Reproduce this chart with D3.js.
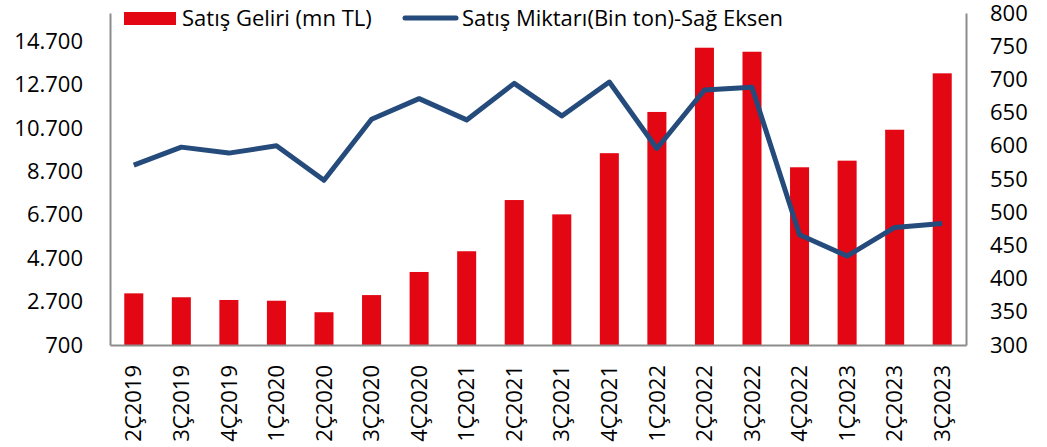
<!DOCTYPE html>
<html>
<head>
<meta charset="utf-8">
<script src="https://cdn.jsdelivr.net/npm/d3@7"></script>
<style>
  body { margin: 0; background: #fff; }
  svg text { font-family: "Open Sans", Lato, sans-serif; fill: #000; }
</style>
</head>
<body>
<svg id="chart" width="1047" height="447"></svg>
<script>
const quarters = ['2Ç2019', '3Ç2019', '4Ç2019', '1Ç2020', '2Ç2020', '3Ç2020', '4Ç2020',
    '1Ç2021', '2Ç2021', '3Ç2021', '4Ç2021', '1Ç2022', '2Ç2022', '3Ç2022', '4Ç2022',
    '1Ç2023', '2Ç2023', '3Ç2023'];

// Satış Geliri (mn TL) - left axis
const revenue = [3080, 2900, 2775, 2740, 2210, 3000, 4065, 5020, 7380, 6720, 9540,
    11440, 14400, 14215, 8890, 9195, 10620, 13220];

// Satış Miktarı (Bin ton) - right axis
const volume = [571, 598, 589, 600, 548, 640, 671, 639, 694, 645, 696,
    596, 684, 688, 466, 434, 477, 483];

const leftTicks = [700, 2700, 4700, 6700, 8700, 10700, 12700, 14700];
const rightTicks = [300, 350, 400, 450, 500, 550, 600, 650, 700, 750, 800];

const barColor = '#e30613';
const lineColor = '#244b7b';
const axisColor = '#8c8c8c';

const plotLeft = 110, plotRight = 966, plotTop = 13, plotBottom = 345;
const fontSize = '22px';

const svg = d3.select('#chart');

const x = d3.scaleBand()
    .domain(quarters)
    .range([plotLeft, plotRight])
    .paddingInner(0.6)
    .paddingOuter(0.3);

const yLeft = d3.scaleLinear().domain([700, 16000]).range([plotBottom, plotTop]);
const yRight = d3.scaleLinear().domain([300, 800]).range([plotBottom, plotTop]);

const fmt = d3.formatLocale({ decimal: ',', thousands: '.', grouping: [3], currency: ['', ''] }).format(',');

// bars
svg.append('g')
    .selectAll('rect')
    .data(revenue)
    .enter()
    .append('rect')
    .attr('x', (d, i) => x(quarters[i]))
    .attr('width', x.bandwidth())
    .attr('y', d => yLeft(d))
    .attr('height', d => yLeft(700) - yLeft(d))
    .attr('fill', barColor);

// axes
const leftAxis = d3.axisLeft(yLeft).tickValues(leftTicks).tickSize(0).tickPadding(27).tickFormat(fmt);
const rightAxis = d3.axisRight(yRight).tickValues(rightTicks).tickSize(0).tickPadding(24);
const bottomAxis = d3.axisBottom(x).tickSize(0);

const gl = svg.append('g').attr('transform', 'translate(' + plotLeft + ',0)').call(leftAxis);
const gr = svg.append('g').attr('transform', 'translate(' + plotRight + ',0)').call(rightAxis);
const gb = svg.append('g').attr('transform', 'translate(0,' + plotBottom + ')').call(bottomAxis);

[gl, gr, gb].forEach(g => {
    g.select('.domain').attr('stroke', axisColor).attr('stroke-width', 2);
    g.selectAll('text').style('font-size', fontSize).attr('fill', '#000');
});

gb.selectAll('text')
    .attr('transform', 'rotate(-90)')
    .attr('text-anchor', 'end')
    .attr('x', -20)
    .attr('y', 0)
    .attr('dy', '0.35em');

// line
const line = d3.line()
    .x((d, i) => x(quarters[i]) + x.bandwidth() / 2)
    .y(d => yRight(d));

svg.append('path')
    .datum(volume)
    .attr('d', line)
    .attr('fill', 'none')
    .attr('stroke', lineColor)
    .attr('stroke-width', 5)
    .attr('stroke-linejoin', 'round');

// legend
const legend = svg.append('g');
legend.append('rect')
    .attr('x', 124).attr('y', 12)
    .attr('width', 52).attr('height', 13)
    .attr('fill', barColor);
legend.append('text')
    .attr('x', 182).attr('y', 18).attr('dy', '0.35em')
    .style('font-size', fontSize)
    .text('Satış Geliri (mn TL)');
legend.append('line')
    .attr('x1', 405).attr('x2', 456)
    .attr('y1', 18).attr('y2', 18)
    .attr('stroke', lineColor)
    .attr('stroke-width', 5)
    .attr('stroke-linecap', 'round');
legend.append('text')
    .attr('x', 462).attr('y', 18).attr('dy', '0.35em')
    .style('font-size', fontSize)
    .text('Satış Miktarı(Bin ton)-Sağ Eksen');
</script>
</body>
</html>
